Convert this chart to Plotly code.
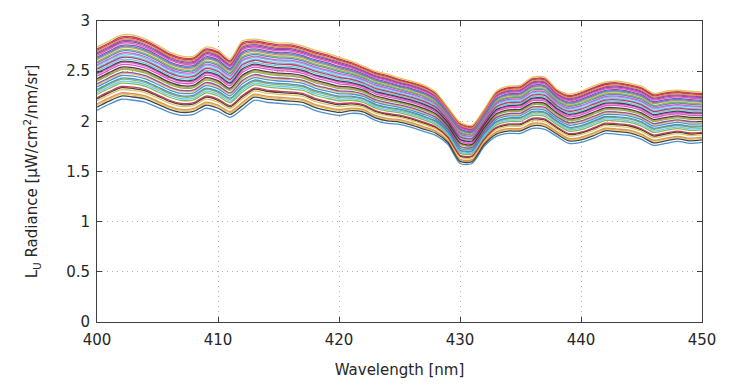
import plotly.graph_objects as go

# Wavelength grid [nm]
wavelength = list(range(400, 451))

# Upper envelope of the spectra
top_curve = [2.74, 2.80, 2.86, 2.86, 2.82, 2.76, 2.69, 2.65, 2.65, 2.74,
             2.71, 2.62, 2.80, 2.82, 2.80, 2.78, 2.78, 2.75, 2.71, 2.68,
             2.64, 2.60, 2.55, 2.50, 2.47, 2.43, 2.40, 2.36, 2.29, 2.14,
             1.99, 1.96, 2.12, 2.30, 2.35, 2.36, 2.44, 2.44, 2.32, 2.27,
             2.30, 2.35, 2.39, 2.40, 2.38, 2.35, 2.28, 2.30, 2.31, 2.30,
             2.29]

# Lower envelope of the spectra
bottom_curve = [2.11, 2.17, 2.22, 2.21, 2.19, 2.14, 2.09, 2.06, 2.07, 2.13,
                2.10, 2.04, 2.12, 2.21, 2.19, 2.18, 2.17, 2.16, 2.11, 2.08,
                2.06, 2.08, 2.07, 2.01, 1.98, 1.97, 1.94, 1.90, 1.86, 1.77,
                1.58, 1.58, 1.75, 1.85, 1.88, 1.88, 1.93, 1.92, 1.85, 1.78,
                1.79, 1.83, 1.88, 1.87, 1.86, 1.82, 1.76, 1.78, 1.80, 1.78,
                1.79]

# Relative level of each measured spectrum between the envelopes
levels = [0.00, 0.48, 0.08, 0.84, 0.31, 0.62, 0.95, 0.18, 0.54, 0.75,
          0.10, 0.40, 0.89, 0.25, 0.67, 0.97, 0.05, 0.57, 0.37, 0.80,
          0.15, 0.91, 0.46, 0.70, 0.20, 0.59, 0.87, 0.33, 0.93, 1.00,
          0.42, 0.77, 0.28, 0.65, 0.50, 0.72, 0.82]

palette = ['#3a86c8', '#d98a4a', '#e0c050', '#8a3fa0', '#7fb040',
           '#5cc4ec', '#c02a4a', '#333333', '#d84ac4']

x_ticks = [400, 410, 420, 430, 440, 450]
y_ticks = [0, 0.5, 1, 1.5, 2, 2.5, 3]

fig = go.Figure()
for i, f in enumerate(levels):
    y = [b + f * (t - b) for b, t in zip(bottom_curve, top_curve)]
    fig.add_trace(go.Scatter(
        x=wavelength, y=y, mode='lines',
        line=dict(color=palette[i % len(palette)], width=1.3,
                  shape='spline', smoothing=0.7),
        opacity=0.9, showlegend=False, hoverinfo='skip'))

font = dict(family='DejaVu Sans', size=15, color='#262626')
axis_common = dict(
    showline=True, linecolor='#404040', linewidth=1, mirror='ticks',
    ticks='inside', ticklen=5, tickcolor='#404040',
    showgrid=True, gridcolor='#b4b4b4', griddash='1px,4px', gridwidth=1,
    zeroline=False, tickfont=font)

fig.update_layout(
    width=731, height=388,
    margin=dict(l=97, r=29, t=17, b=64),
    paper_bgcolor='white', plot_bgcolor='white',
    font=font,
    xaxis=dict(range=[400, 450], tickvals=x_ticks, ticklabelstandoff=4,
               title=dict(text='Wavelength [nm]', font=font, standoff=16),
               **axis_common),
    yaxis=dict(range=[0, 3], tickvals=y_ticks,
               ticktext=['0', '0.5', '1', '1.5', '2', '2.5', '3'],
               ticklabelstandoff=3,
               title=dict(text='L<sub>U</sub> Radiance [µW/cm<sup>2</sup>/nm/sr]',
                          font=font, standoff=24),
               **axis_common),
)

fig.write_html('out.html')
